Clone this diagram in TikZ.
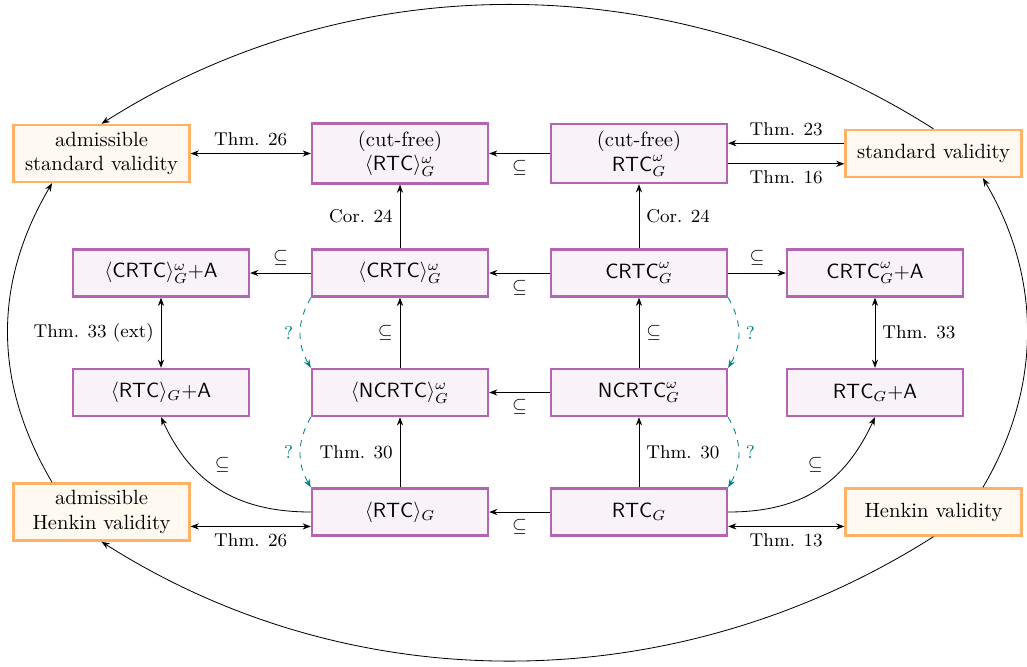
\documentclass[tikz,border=0pt]{standalone}
\usetikzlibrary{arrows.meta}
\begin{document}
\begin{tikzpicture}[x=0.48544pt, y=-0.48544pt,
  box/.style={draw=violet!60, fill=violet!5, very thick, minimum width=3cm, minimum height=0.8cm, align=center},
  val/.style={draw=orange!60, fill=orange!5, very thick, minimum width=3cm, minimum height=0.8cm, align=center},
  lbl/.style={font=\small},
  arr/.style={-{Stealth[length=4pt,width=3pt]}},
  darr/.style={{Stealth[length=4pt,width=3pt]}-{Stealth[length=4pt,width=3pt]}},
  qarr/.style={arr, dashed, teal},
  qlbl/.style={font=\small, text=teal}]
\useasboundingbox (0,0) rectangle (1027,666);

% row 1
\node[val] (asv) at (101.5,153.5) {admissible\\standard validity};
\node[box] (cfa) at (400,153.5) {(cut-free)\\$\langle\mathsf{RTC}\rangle^\omega_G$};
\node[box] (cfb) at (639,153.5) {(cut-free)\\$\mathsf{RTC}^\omega_G$};
\node[val] (sv) at (933.5,153.5) {standard validity};
% row 2
\node[box] (crtcAa) at (161,273) {$\langle\mathsf{CRTC}\rangle^\omega_G{+}\mathsf{A}$};
\node[box] (crtca) at (400,273) {$\langle\mathsf{CRTC}\rangle^\omega_G$};
\node[box] (crtc) at (639,273) {$\mathsf{CRTC}^\omega_G$};
\node[box] (crtcA) at (875,273) {$\mathsf{CRTC}^\omega_G{+}\mathsf{A}$};
% row 3
\node[box] (rtcAa) at (161,392.5) {$\langle\mathsf{RTC}\rangle_G{+}\mathsf{A}$};
\node[box] (ncrtca) at (400,392.5) {$\langle\mathsf{NCRTC}\rangle^\omega_G$};
\node[box] (ncrtc) at (639,392.5) {$\mathsf{NCRTC}^\omega_G$};
\node[box] (rtcA) at (875,392.5) {$\mathsf{RTC}_G{+}\mathsf{A}$};
% row 4
\node[val] (ahv) at (101.5,512) {admissible\\Henkin validity};
\node[box] (rtca) at (400,512) {$\langle\mathsf{RTC}\rangle_G$};
\node[box] (rtc) at (639,512) {$\mathsf{RTC}_G$};
\node[val] (hv) at (933.5,512) {Henkin validity};

% row 1 edges
\draw[darr] (asv) -- node[lbl, above] {Thm. 26} (cfa);
\draw[arr] (cfb) -- node[lbl, below] {$\subseteq$} (cfa);
\draw[arr] ([yshift=5pt]sv.west) -- node[lbl, above] {Thm. 23} ([yshift=5pt]cfb.east);
\draw[arr] ([yshift=-5pt]cfb.east) -- node[lbl, below] {Thm. 16} ([yshift=-5pt]sv.west);
% vertical 2->1
\draw[arr] (crtca) -- node[lbl, left] {Cor. 24} (cfa);
\draw[arr] (crtc) -- node[lbl, right] {Cor. 24} (cfb);
% row 2 edges
\draw[arr] (crtca) -- node[lbl, above] {$\subseteq$} (crtcAa);
\draw[arr] (crtc) -- node[lbl, below] {$\subseteq$} (crtca);
\draw[arr] (crtc) -- node[lbl, above] {$\subseteq$} (crtcA);
% vertical 3->2
\draw[darr] (crtcAa) -- node[lbl, left] {Thm. 33 (ext)} (rtcAa);
\draw[darr] (crtcA) -- node[lbl, right] {Thm. 33} (rtcA);
\draw[arr] (ncrtca) -- node[lbl, left] {$\subseteq$} (crtca);
\draw[arr] (ncrtc) -- node[lbl, right] {$\subseteq$} (crtc);
% row 3 edges
\draw[arr] (ncrtc) -- node[lbl, below] {$\subseteq$} (ncrtca);
% vertical 4->3
\draw[arr] (rtca) -- node[lbl, left] {Thm. 30} (ncrtca);
\draw[arr] (rtc) -- node[lbl, right] {Thm. 30} (ncrtc);
% row 4 edges
\draw[arr] (rtc) -- node[lbl, below] {$\subseteq$} (rtca);
\draw[darr] ([yshift=-7pt]ahv.east) -- node[lbl, below] {Thm. 26} ([yshift=-7pt]rtca.west);
\draw[darr] ([yshift=-7pt]rtc.east) -- node[lbl, below] {Thm. 13} ([yshift=-7pt]hv.west);
\draw[arr] (rtca.west) .. controls +(-75,0) and +(30,65) .. node[lbl, pos=0.45, xshift=-2pt, yshift=14pt] {$\subseteq$} (rtcAa.south);
\draw[arr] (rtc.east) .. controls +(75,0) and +(-30,65) .. node[lbl, pos=0.45, xshift=2pt, yshift=14pt] {$\subseteq$} (rtcA.south);

% dashed question arrows
\draw[qarr] (crtca.south west) .. controls +(-14,24) and +(-14,-24) .. node[qlbl, left] {?} (ncrtca.north west);
\draw[qarr] (ncrtca.south west) .. controls +(-14,24) and +(-14,-24) .. node[qlbl, left] {?} (rtca.north west);
\draw[qarr] (crtc.south east) .. controls +(14,24) and +(14,-24) .. node[qlbl, right] {?} (ncrtc.north east);
\draw[qarr] (ncrtc.south east) .. controls +(14,24) and +(14,-24) .. node[qlbl, right] {?} (rtc.north east);

% outer curves
\draw[arr] (sv.north) .. controls +(-255,-162) and +(255,-162) .. (asv.north);
\draw[arr] (hv.south) .. controls +(-255,162) and +(255,162) .. (ahv.south);
\draw[arr] ([xshift=24pt]hv.north) .. controls +(59,-100) and +(59,100) .. ([xshift=24pt]sv.south);
\draw[arr] ([xshift=-24pt]ahv.north) .. controls +(-59,-100) and +(-59,100) .. ([xshift=-24pt]asv.south);
\end{tikzpicture}
\end{document}
